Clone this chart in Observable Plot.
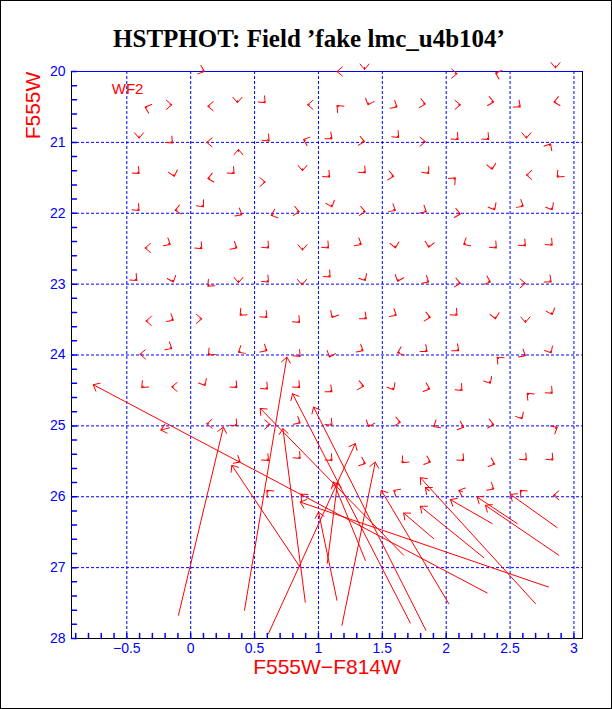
<!DOCTYPE html>
<html><head><meta charset="utf-8">
<script src="https://cdn.jsdelivr.net/npm/d3@7"></script>
<script src="https://cdn.jsdelivr.net/npm/@observablehq/plot@0.6"></script>
<style>
html,body{margin:0;padding:0;background:#fff;}
#chart svg{display:block;outline:1px solid #000;outline-offset:-1px;}
</style></head><body><div id="chart"></div>
<script>
// ---- data ----
const titleText = "HSTPHOT: Field \u2019fake lmc_u4b104\u2019";
const xLabel = "F555W\u2212F814W";
const yLabel = "F555W";
const chipLabel = "WF2";
const xDomain = [-0.933, 3.067];
const yDomain = [28, 20];
const xTicks = [-0.5, 0, 0.5, 1, 1.5, 2, 2.5, 3];
const xTickLabels = ["\u22120.5", "0", "0.5", "1", "1.5", "2", "2.5", "3"];
const yTicks = [20, 21, 22, 23, 24, 25, 26, 27, 28];
const yTickLabels = ["20", "21", "22", "23", "24", "25", "26", "27", "28"];
const xMinor = d3.range(-9, 31).map(i => i / 10);
const yMinor = d3.range(100, 141).map(i => i / 5);

// small displacement arrows: [colour at tip, magnitude at tip, head direction (deg, clockwise from up), stem px]
const row20 = [[0.107,20.0,110],[1.145,20.0,270],[1.361,19.97,180],[2.085,20.03,90],[2.386,20.02,290],[2.856,19.95,180]];
const row20_5 = [[-0.357,20.50,290],[-0.148,20.47,90],[0.134,20.49,270],[0.366,20.44,180],[0.583,20.44,135],[0.915,20.47,270],[1.145,20.48,315],[1.388,20.47,200],[1.615,20.50,120],[1.837,20.46,100],[2.111,20.47,90],[2.372,20.43,100],[2.58,20.50,130],[2.843,20.43,260]];
const row21 = [[-0.404,20.94,180],[-0.143,21.01,135],[0.126,21.00,270],[0.374,21.10,0],[0.614,20.98,135],[0.883,20.96,290],[1.106,20.95,130],[1.361,20.99,100],[1.628,20.93,135],[1.837,20.99,90],[2.093,20.96,135],[2.333,20.96,135],[2.628,20.94,180],[2.817,21.02,30]];
const row21_5 = [[-0.404,21.44,135],[-0.128,21.48,165],[0.134,21.51,260],[0.340,21.44,135],[0.583,21.56,90],[0.875,21.40,180],[1.087,21.49,135],[1.367,21.43,135],[1.589,21.48,100],[1.863,21.44,140],[2.072,21.50,45],[2.360,21.38,170],[2.628,21.46,270],[2.869,21.49,225]];
const row22 = [[-0.404,21.96,135],[-0.122,21.96,260],[0.100,21.91,140],[0.400,22.02,120],[0.630,22.03,250],[0.850,21.98,100],[1.106,21.91,160],[1.367,21.98,100],[1.602,21.96,120],[1.845,21.98,120],[2.111,22.01,100],[2.380,21.95,150],[2.603,21.90,120],[2.830,21.95,150]];
const row22_5 = [[-0.357,22.49,270],[-0.160,22.44,120],[0.087,22.50,135],[0.361,22.49,120],[0.610,22.49,135],[0.875,22.52,180],[1.079,22.49,135],[1.335,22.44,120],[1.602,22.49,170],[1.863,22.48,190],[2.137,22.44,240],[2.393,22.49,135],[2.620,22.46,135],[2.830,22.45,135]];
const row23 = [[-0.422,22.95,135],[-0.136,22.97,160],[0.134,23.03,225],[0.374,22.98,180],[0.609,22.97,135],[0.871,23.01,180],[1.092,22.90,135],[1.367,22.95,150],[1.620,22.96,200],[1.863,22.97,120],[2.111,22.99,100],[2.346,22.97,110],[2.620,22.99,90],[2.822,22.97,130]];
const row23_5 = [[-0.350,23.52,270],[-0.136,23.51,120],[0.087,23.49,90],[0.387,23.44,225],[0.596,23.47,135],[0.852,23.54,135],[1.106,23.47,210],[1.375,23.49,130],[1.610,23.44,120],[1.876,23.47,100],[2.085,23.44,135],[2.386,23.49,170],[2.620,23.54,180],[2.830,23.43,160]];
const row24 = [[-0.397,23.99,270],[-0.148,23.91,120],[0.139,24.00,225],[0.374,23.96,240],[0.596,23.94,120],[0.857,24.02,135],[1.087,24.03,200],[1.349,23.94,120],[1.620,23.97,250],[1.850,23.95,130],[2.098,23.94,130],[2.399,24.03,315],[2.620,24.01,120],[2.822,23.97,150]];
const row24_5 = [[-0.383,24.46,225],[-0.148,24.45,270],[0.113,24.43,150],[0.361,24.46,135],[0.601,24.48,135],[0.852,24.46,135],[1.106,24.52,130],[1.354,24.44,100],[1.589,24.49,150],[1.871,24.48,110],[2.124,24.50,135],[2.346,24.40,150],[2.634,24.54,315],[2.830,24.54,135]];
const row25 = [[-0.234,25.06,255,9],[0.126,24.97,270],[0.361,25.00,135],[0.622,24.98,90],[0.857,24.96,120],[1.106,24.99,135],[1.393,25.01,200],[1.641,24.95,100],[1.902,25.01,240],[2.137,25.02,110],[2.372,24.98,100],[2.594,24.90,150],[2.869,25.02,60]];
const row25_5 = [[0.387,25.51,120],[0.609,25.49,135],[0.857,25.46,135],[1.106,25.49,135],[1.367,25.53,110],[1.654,25.52,225],[1.876,25.51,110],[2.137,25.49,135],[2.380,25.54,110],[2.628,25.48,135],[2.835,25.48,135]];
const row26 = [[0.596,25.91,315],[0.863,25.96,315],[1.589,25.91,300],[1.837,25.87,310,5],[2.098,25.91,290,4],[2.372,25.89,120],[2.580,25.91,315],[2.840,25.98,270]];

// long arrows: [tail colour, tail mag, head colour, head mag]
const longArrows = [
  [2.321,27.358,-0.763,24.419],
  [-0.096,27.673,0.256,25.017],
  [0.421,27.602,0.753,24.030],
  [1.667,26.826,0.544,24.753],
  [0.897,27.489,0.722,25.039],
  [0.609,27.931,1.288,25.251],
  [1.184,27.814,1.445,25.511],
  [0.857,26.996,0.322,25.557],
  [1.719,27.781,0.797,24.546],
  [1.841,27.884,0.962,24.735],
  [1.902,26.591,1.667,26.230],
  [2.294,26.859,1.798,26.135],
  [2.699,27.508,1.798,25.731],
  [2.020,27.508,1.492,25.910],
  [2.360,26.379,2.033,26.041],
  [2.556,26.379,2.242,26.004],
  [2.882,26.826,2.307,26.121],
  [2.869,26.436,2.503,25.966],
  [1.145,27.461,1.001,26.216],
  [1.069,26.939,1.150,25.793],
  [1.367,26.897,1.118,25.793],
  [2.801,27.274,0.857,26.075]
];

const smallArrows = [].concat(row20,row20_5,row21,row21_5,row22,row22_5,row23,row23_5,row24,row24_5,row25,row25_5,row26);

// ---- drawing ----
const red = "#ff0000", blue = "#0000ff";
const HEAD = 7, HALF = 40 * Math.PI / 180;
const chevron = {
  draw(ctx, l) {
    const wx = HEAD * Math.sin(HALF), wy = HEAD * Math.cos(HALF);
    ctx.moveTo(0, 0); ctx.lineTo(0, -l);
    ctx.moveTo(-wx, -l + wy); ctx.lineTo(0, -l); ctx.lineTo(wx, -l + wy);
  }
};
const tickShape = { draw(ctx, l) { ctx.moveTo(0, 0); ctx.lineTo(0, -l); } };

const chart = Plot.plot({
  width: 612, height: 709,
  marginLeft: 71, marginRight: 30, marginTop: 71, marginBottom: 71,
  x: {domain: xDomain, axis: null},
  y: {domain: yDomain, axis: null},
  length: {type: "identity"},
  style: {background: "white", fontFamily: "'Liberation Sans', Arial, sans-serif", overflow: "visible"},
  marks: [
    Plot.ruleX(xTicks, {stroke: blue, strokeDasharray: "3,2"}),
    Plot.ruleY(yTicks.slice(1, -1), {stroke: blue, strokeDasharray: "3,2"}),
    Plot.frame({stroke: "black"}),
    Plot.ruleY([yTicks[0]], {stroke: blue}),
    Plot.vector(xMinor, {x: d => d, frameAnchor: "bottom", rotate: 0, length: 5, anchor: "start", shape: tickShape, stroke: blue}),
    Plot.vector(yMinor, {y: d => d, frameAnchor: "left", rotate: 90, length: 5, anchor: "start", shape: tickShape, stroke: blue}),
    Plot.text(xTicks, {x: d => d, text: (d, i) => xTickLabels[i], frameAnchor: "bottom", dy: 10, lineAnchor: "middle", fill: blue, fontSize: 14}),
    Plot.text(yTicks, {y: d => d, text: (d, i) => yTickLabels[i], frameAnchor: "left", dx: -6, textAnchor: "end", lineAnchor: "middle", fill: blue, fontSize: 14}),
    Plot.text([titleText], {frameAnchor: "top", dx: -18, dy: -33, lineAnchor: "middle", fontSize: 25, fontWeight: "bold", fontFamily: "'Liberation Serif', 'Times New Roman', serif", fill: "black"}),
    Plot.text([xLabel], {frameAnchor: "bottom", dy: 29, lineAnchor: "middle", fontSize: 21, fill: red}),
    Plot.text([yLabel], {frameAnchor: "top-left", dx: -38, dy: 34, rotate: -90, textAnchor: "middle", lineAnchor: "middle", fontSize: 21, fill: red}),
    Plot.text([chipLabel], {x: () => -0.494, y: () => 20.244, fontSize: 15, fill: red, lineAnchor: "middle"}),
    Plot.arrow(longArrows, {x1: d => d[0], y1: d => d[1], x2: d => d[2], y2: d => d[3], stroke: red, strokeWidth: 1, headLength: 10.5, headAngle: 80}),
    Plot.vector(smallArrows, {x: d => d[0], y: d => d[1], rotate: d => d[2], length: d => d[3] ?? 2, anchor: "end", shape: chevron, stroke: red, strokeWidth: 1})
  ]
});
document.getElementById("chart").appendChild(chart);
</script></body></html>
